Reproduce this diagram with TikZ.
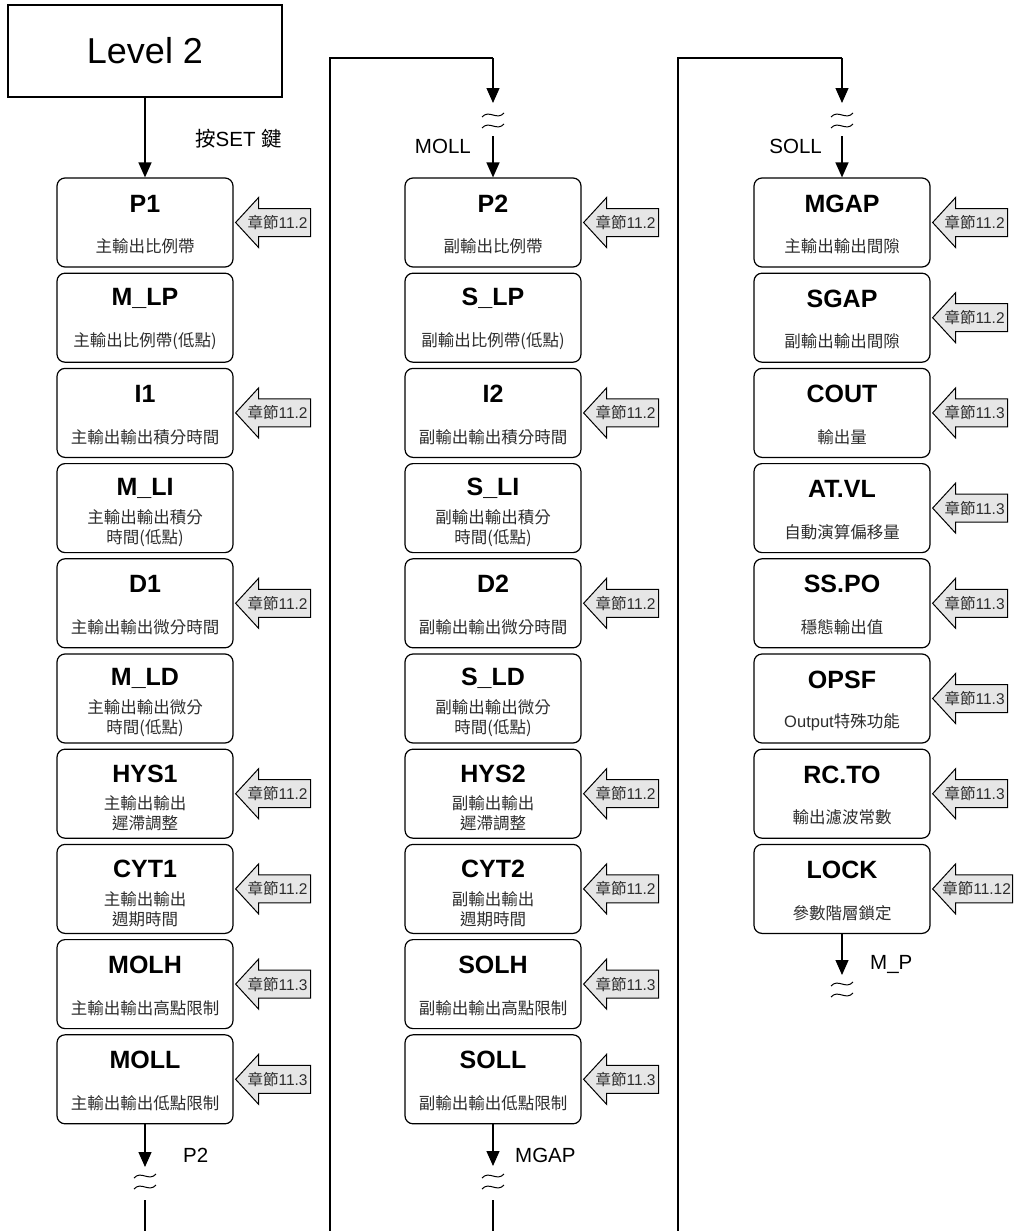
\documentclass[tikz,border=0pt]{standalone}
\usepackage{fontspec}
\setmainfont{Liberation Sans}
\newfontfamily\cjk{Noto Sans CJK TC}
\usetikzlibrary{arrows.meta}
\definecolor{cfill}{RGB}{230,230,230}
\definecolor{subc}{RGB}{45,45,45}
\newcommand\C[1]{{\cjk #1}}
\newcommand\pbox[7]{%
  \node[pbox] (#1) at (#2,#3) {};
  \node[ptitle] (#1t) at ([yshift=-#7pt]#1.north) {#4};
  \node[psub] (#1s) at ([yshift=-#6pt]#1.north) {#5};
}
\newcommand\callout[4]{%
  \coordinate (#1) at ([xshift=2pt]#2.east);
  \draw[cshape] (#1) -- ++(23,-25) -- ++(0,11) -- ++(#4-23,0) -- ++(0,28) -- ++(23-#4,0) -- ++(0,11) -- cycle;
  \node[ctext] (#1t) at ([xshift=42pt]#1) {\C{章節}#3};
}
\newcommand\brk[3]{%
  \draw[wave] (#1-11,#2+2) .. controls (#1-4,#2-6) and (#1+4,#2+6) .. (#1+11,#2-2);
  \draw[wave] (#1-11,#3+2) .. controls (#1-4,#3-6) and (#1+4,#3+6) .. (#1+11,#3-2);
}
\begin{document}
\begin{tikzpicture}[x=1pt,y=-1pt,
  pbox/.style={draw,line width=1.2pt,rounded corners=8pt,minimum width=176pt,minimum height=89pt,inner sep=0pt},
  ptitle/.style={font=\fontsize{25}{30}\selectfont\bfseries,inner sep=0pt},
  psub/.style={font=\fontsize{16.5}{20}\selectfont,text=subc,align=center,inner sep=0pt},
  cshape/.style={draw,fill=cfill,line width=1pt,line join=miter},
  ctext/.style={font=\fontsize{15.5}{18}\selectfont,text=subc,inner sep=0pt},
  lbl/.style={font=\fontsize{20.5}{24}\selectfont,inner sep=0pt},
  conn/.style={line width=1.3pt},
  arr/.style={line width=1.3pt,-{Triangle[width=13pt,length=15pt]}},
  wave/.style={line width=1pt}]
\useasboundingbox (0,0) rectangle (1016,1231);

% Level 2
\node[draw,line width=1.2pt,minimum width=274pt,minimum height=92pt,inner sep=0pt,font=\fontsize{36}{40}\selectfont] (lv) at (145,51) {Level 2};

% column 1
\pbox{p1}{145}{222.5}{P1}{\C{主輸出比例帶}}{69}{26}
\pbox{mlp}{145}{317.7}{M\_LP}{\C{主輸出比例帶(低點)}}{69}{26}
\pbox{i1}{145}{412.9}{I1}{\C{主輸出輸出積分時間}}{69}{26}
\pbox{mli}{145}{508.1}{M\_LI}{\C{主輸出輸出積分}\\\C{時間(低點)}}{65}{25}
\pbox{d1}{145}{603.3}{D1}{\C{主輸出輸出微分時間}}{69}{26}
\pbox{mld}{145}{698.5}{M\_LD}{\C{主輸出輸出微分}\\\C{時間(低點)}}{65}{25}
\pbox{hys1}{145}{793.7}{HYS1}{\C{主輸出輸出}\\\C{遲滯調整}}{65}{25}
\pbox{cyt1}{145}{888.9}{CYT1}{\C{主輸出輸出}\\\C{週期時間}}{65}{25}
\pbox{molh}{145}{984.1}{MOLH}{\C{主輸出輸出高點限制}}{69}{26}
\pbox{moll}{145}{1079.3}{MOLL}{\C{主輸出輸出低點限制}}{69}{26}

% column 2
\pbox{p2}{493}{222.5}{P2}{\C{副輸出比例帶}}{69}{26}
\pbox{slp}{493}{317.7}{S\_LP}{\C{副輸出比例帶(低點)}}{69}{26}
\pbox{i2}{493}{412.9}{I2}{\C{副輸出輸出積分時間}}{69}{26}
\pbox{sli}{493}{508.1}{S\_LI}{\C{副輸出輸出積分}\\\C{時間(低點)}}{65}{25}
\pbox{d2}{493}{603.3}{D2}{\C{副輸出輸出微分時間}}{69}{26}
\pbox{sld}{493}{698.5}{S\_LD}{\C{副輸出輸出微分}\\\C{時間(低點)}}{65}{25}
\pbox{hys2}{493}{793.7}{HYS2}{\C{副輸出輸出}\\\C{遲滯調整}}{65}{25}
\pbox{cyt2}{493}{888.9}{CYT2}{\C{副輸出輸出}\\\C{週期時間}}{65}{25}
\pbox{solh}{493}{984.1}{SOLH}{\C{副輸出輸出高點限制}}{69}{26}
\pbox{soll}{493}{1079.3}{SOLL}{\C{副輸出輸出低點限制}}{69}{26}

% column 3
\pbox{mgap}{842}{222.5}{MGAP}{\C{主輸出輸出間隙}}{69}{26}
\pbox{sgap}{842}{317.7}{SGAP}{\C{副輸出輸出間隙}}{69}{26}
\pbox{cout}{842}{412.9}{COUT}{\C{輸出量}}{69}{26}
\pbox{atvl}{842}{508.1}{AT.VL}{\C{自動演算偏移量}}{69}{26}
\pbox{sspo}{842}{603.3}{SS.PO}{\C{穩態輸出值}}{69}{26}
\pbox{opsf}{842}{698.5}{OPSF}{Output\C{特殊功能}}{69}{26}
\pbox{rcto}{842}{793.7}{RC.TO}{\C{輸出濾波常數}}{69}{26}
\pbox{lock}{842}{888.9}{LOCK}{\C{參數階層鎖定}}{69}{26}

% callouts
\callout{cp1}{p1}{11.2}{75}
\callout{ci1}{i1}{11.2}{75}
\callout{cd1}{d1}{11.2}{75}
\callout{chys1}{hys1}{11.2}{75}
\callout{ccyt1}{cyt1}{11.2}{75}
\callout{cmolh}{molh}{11.3}{75}
\callout{cmoll}{moll}{11.3}{75}
\callout{cp2}{p2}{11.2}{75}
\callout{ci2}{i2}{11.2}{75}
\callout{cd2}{d2}{11.2}{75}
\callout{chys2}{hys2}{11.2}{75}
\callout{ccyt2}{cyt2}{11.2}{75}
\callout{csolh}{solh}{11.3}{75}
\callout{csoll}{soll}{11.3}{75}
\callout{cmgap}{mgap}{11.2}{75}
\callout{csgap}{sgap}{11.2}{75}
\callout{ccout}{cout}{11.3}{75}
\callout{catvl}{atvl}{11.3}{75}
\callout{csspo}{sspo}{11.3}{75}
\callout{copsf}{opsf}{11.3}{75}
\callout{crcto}{rcto}{11.3}{75}
\coordinate (clk) at ([xshift=2pt]lock.east);
\draw[cshape] (clk) -- ++(23,-25) -- ++(0,11) -- ++(57,0) -- ++(0,28) -- ++(-57,0) -- ++(0,11) -- cycle;
\node[ctext] (clockt) at ([xshift=44pt]clk) {\C{章節}11.12};

% connectors column 1
\draw[arr] (lv) -- (p1);
\node[lbl,anchor=west] (setk) at (195,139) {\C{按}SET \C{鍵}};
\coordinate (b1a) at (145,1167);
\coordinate (b1b) at (145,1200);
\coordinate (b1c) at (145,1231);
\draw[arr] (moll) -- (b1a);
\brk{145}{1176}{1187}
\draw[conn] (b1b) -- (b1c);
\node[lbl,anchor=base west] (lp2) at (183,1162) {P2};

% connectors column 2
\coordinate (c2a) at (330,1231);
\coordinate (c2b) at (330,58);
\coordinate (c2c) at (493,58);
\coordinate (c2d) at (493,103);
\coordinate (c2e) at (493,136);
\draw[conn] (c2a) -- (c2b) -- (c2c);
\draw[arr] (c2c) -- (c2d);
\brk{493}{115}{126}
\draw[arr] (c2e) -- (p2);
\node[lbl,anchor=base east] (lmoll) at (471,153) {MOLL};
\coordinate (b2a) at (493,1166);
\coordinate (b2b) at (493,1200);
\coordinate (b2c) at (493,1231);
\draw[arr] (soll) -- (b2a);
\brk{493}{1176}{1187}
\draw[conn] (b2b) -- (b2c);
\node[lbl,anchor=base west] (lmgap) at (515,1162) {MGAP};

% connectors column 3
\coordinate (c3a) at (678,1231);
\coordinate (c3b) at (678,58);
\coordinate (c3c) at (842,58);
\coordinate (c3d) at (842,103);
\coordinate (c3e) at (842,136);
\draw[conn] (c3a) -- (c3b) -- (c3c);
\draw[arr] (c3c) -- (c3d);
\brk{842}{115}{126}
\draw[arr] (c3e) -- (mgap);
\node[lbl,anchor=base east] (lsoll) at (822,153) {SOLL};
\coordinate (b3a) at (842,975);
\draw[arr] (lock) -- (b3a);
\brk{842}{984}{995}
\node[lbl,anchor=base west] (lmp) at (870,969) {M\_P};
\end{tikzpicture}
\end{document}
